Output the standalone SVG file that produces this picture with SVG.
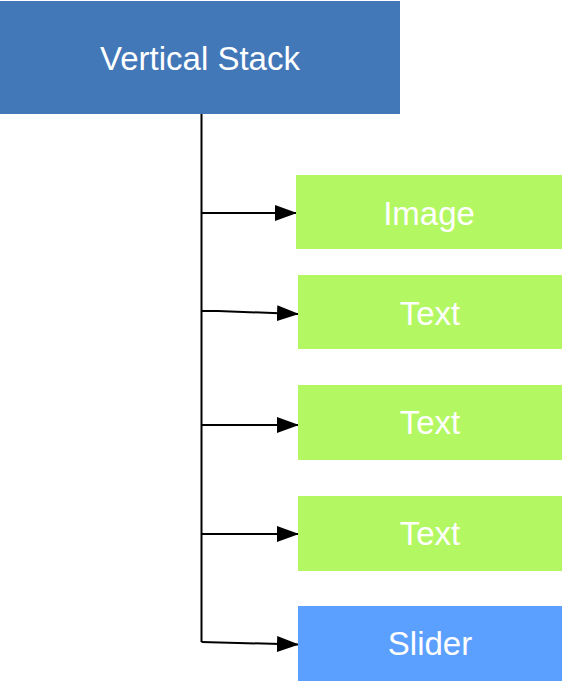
<svg xmlns="http://www.w3.org/2000/svg" width="564" height="681" viewBox="0 0 564 681">
<defs>
<style>
.lbl{font-family:"Liberation Sans",Arial,sans-serif;font-size:33px;fill:#ffffff;text-anchor:middle}
.green{fill:#b3f862}
.conn{fill:none;stroke:#000000;stroke-width:2}
</style>
<marker id="arr" markerWidth="24" markerHeight="20" refX="21" refY="10" orient="auto" markerUnits="userSpaceOnUse">
<polygon points="0,2 22,10 0,18" fill="#000000"/>
</marker>
</defs>
<rect width="564" height="681" fill="#ffffff"/>
<g id="connectors">
<path class="conn" d="M201.5,114 V642"/>
<path class="conn" d="M201.5,213 H296" marker-end="url(#arr)"/>
<path class="conn" d="M201.5,311 L218,311 L298,314" marker-end="url(#arr)"/>
<path class="conn" d="M201.5,425 H298" marker-end="url(#arr)"/>
<path class="conn" d="M201.5,534 H298" marker-end="url(#arr)"/>
<path class="conn" d="M201.5,642 L298,644.5" marker-end="url(#arr)"/>
</g>
<g id="vertical-stack">
<rect x="0" y="1" width="400" height="113" fill="#4277b8"/>
<text class="lbl" x="200" y="70">Vertical Stack</text>
</g>
<g id="image">
<rect class="green" x="296" y="175" width="266" height="74"/>
<text class="lbl" x="429" y="225">Image</text>
</g>
<g id="text1">
<rect class="green" x="298" y="275" width="264" height="74"/>
<text class="lbl" x="430" y="325">Text</text>
</g>
<g id="text2">
<rect class="green" x="298" y="385" width="264" height="75"/>
<text class="lbl" x="430" y="434">Text</text>
</g>
<g id="text3">
<rect class="green" x="298" y="496" width="264" height="75"/>
<text class="lbl" x="430" y="545">Text</text>
</g>
<g id="slider">
<rect x="298" y="606" width="264" height="75" fill="#5b9fff"/>
<text class="lbl" x="430" y="655">Slider</text>
</g>
</svg>
